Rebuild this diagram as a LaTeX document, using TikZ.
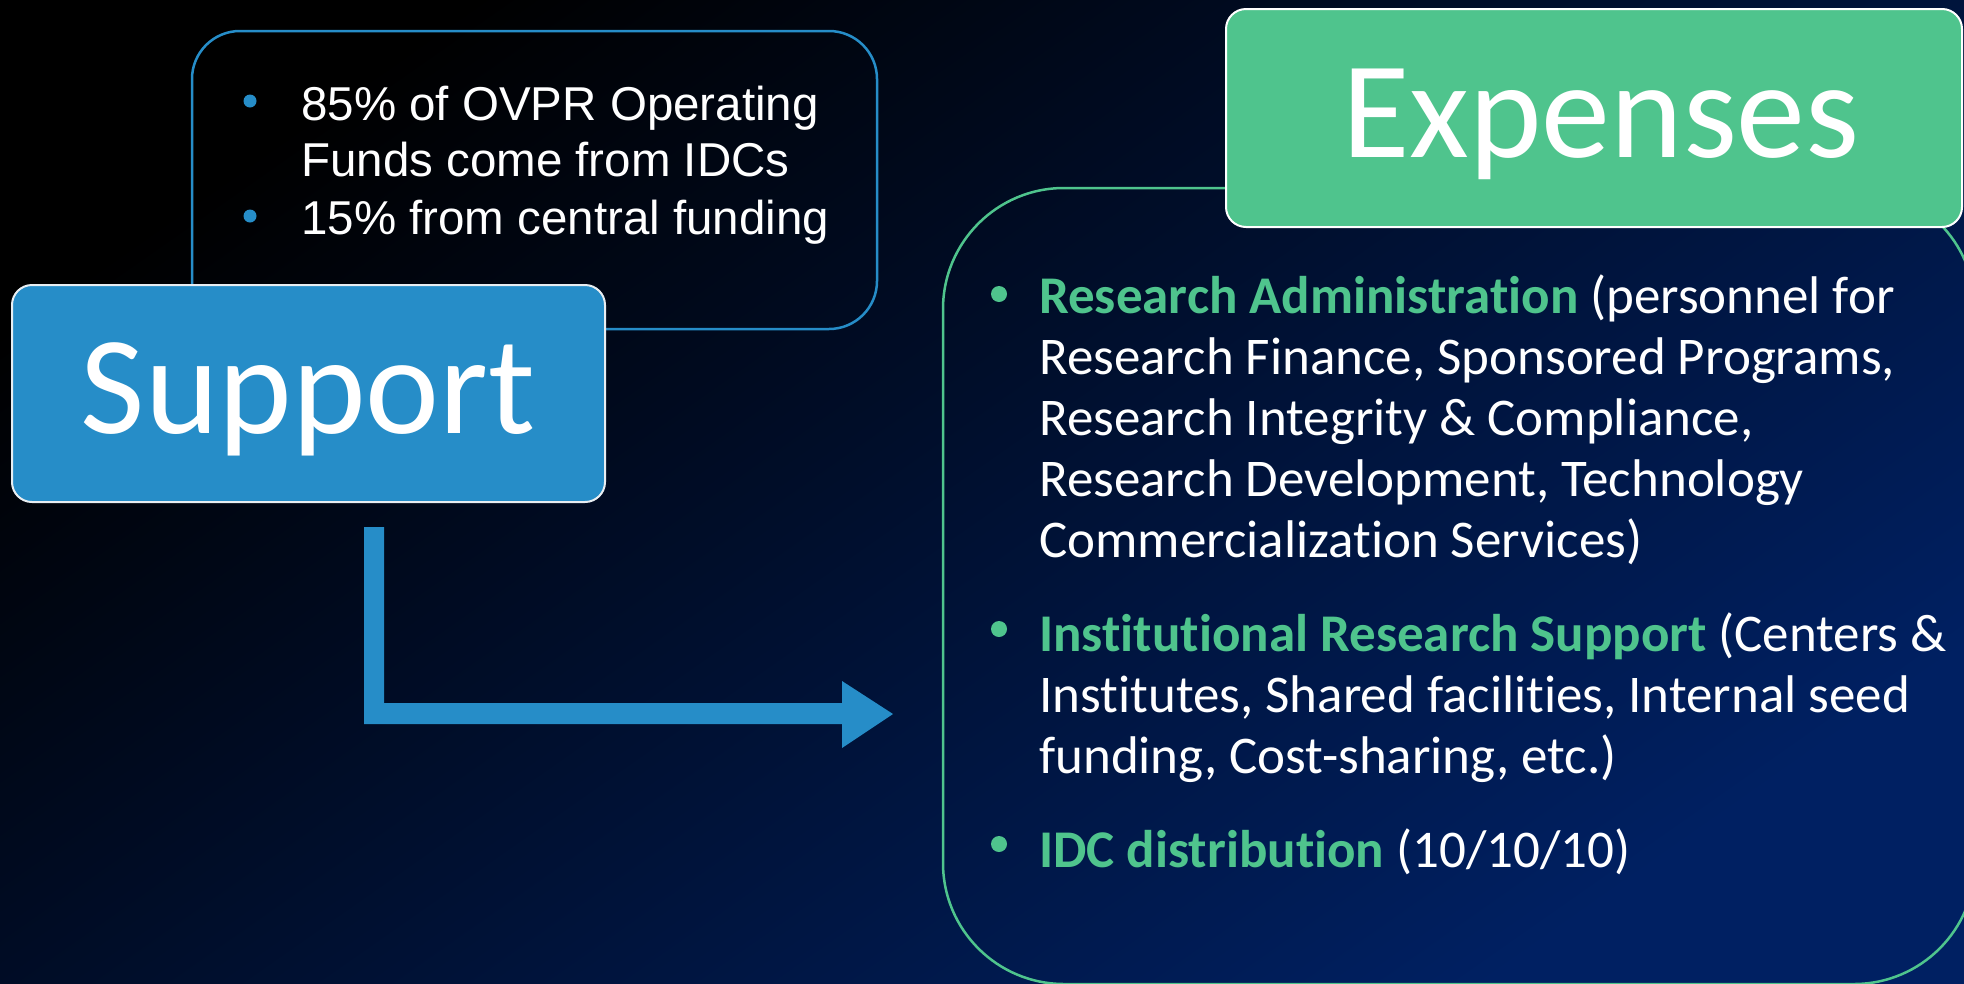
\documentclass[tikz,border=0pt]{standalone}
\usepackage{fontspec}
\setmainfont{Carlito}[RawFeature={-liga;-clig;-dlig}]
\newfontfamily\arialfont{Liberation Sans}
\newcommand\tiplain{t\kern0pt i}
\definecolor{accblue}{HTML}{268DC8}
\definecolor{accgreen}{HTML}{4FC48D}
\definecolor{bgnavy}{HTML}{002062}
\definecolor{boxedge}{HTML}{E8EEF2}
\tikzset{
  outlinebox/.style={line width=2.5pt},
  titlebox/.style={line width=2pt, draw=boxedge},
  titletext/.style={anchor=base, inner sep=0pt, text=white, font=\fontsize{140}{140}\selectfont},
  bodytext/.style={anchor=base west, inner sep=0pt, text=white, font=\fontsize{53}{61}\selectfont},
  smalltext/.style={anchor=base west, inner sep=0pt, text=white, font=\arialfont\fontsize{47.5}{56}\selectfont},
}
\begin{document}
\begin{tikzpicture}[x=1pt,y=-1pt]
\useasboundingbox (0,0) rectangle (1964,983);
\shade[top color=black, bottom color=bgnavy, shading angle=35] (0,0) rectangle (1964,983);

% blue outlined text box
\draw[outlinebox, accblue, rounded corners=48pt] (192,31) rectangle (877,329);
\fill[accblue] (250,101) circle (6.5);
\fill[accblue] (250,216) circle (6.5);
\node[smalltext] (fundA) at (301,120) {\begin{tabular}[t]{@{}l@{}}85\% of OVPR Operating\\Funds come from IDCs\end{tabular}};
\node[smalltext] (fundB) at (301,234) {15\% from central funding};

% Support box
\draw[titlebox, fill=accblue, rounded corners=20pt] (12,285) rectangle (605,502);
\node[titletext] (support) at (308,433) {Support};

% bent arrow
\coordinate (arrtop) at (364,527);
\coordinate (arrtip) at (893,714);
\fill[accblue] (arrtop) -- (384,527) -- (384,703) -- (842,703) -- (842,681) -- (arrtip)
  -- (842,748) -- (842,724) -- (364,724) -- cycle;

% green outlined box
\draw[outlinebox, accgreen, rounded corners=121pt] (943,188) rectangle (1975,984);

% Expenses box
\draw[titlebox, draw=white, fill=accgreen, rounded corners=20pt] (1226,9) rectangle (1962,227);
\node[titletext, font=\fontsize{138}{138}\selectfont] (expenses) at (1601,157) {Expenses};

% bullets
\fill[accgreen] (999,294) circle (8);
\fill[accgreen] (999,629) circle (8);
\fill[accgreen] (999,844) circle (8);
\node[bodytext] (resadmin) at (1039,313) {\begin{tabular}[t]{@{}l@{}}{\color{accgreen}\bfseries Research Administra\tiplain on} (personnel for\\Research Finance, Sponsored Programs,\\Research Integrity \& Compliance,\\Research Development, Technology\\Commercializa\tiplain on Services)\end{tabular}};
\node[bodytext] (instsup) at (1039,651) {\begin{tabular}[t]{@{}l@{}}{\color{accgreen}\bfseries Ins\tiplain tu\tiplain onal Research Support} (Centers \&\\Ins\tiplain tutes, Shared facili\tiplain es, Internal seed\\funding, Cost-sharing, etc.)\end{tabular}};
\node[bodytext] (idc) at (1039,867) {{\color{accgreen}\bfseries IDC distribu\tiplain on} (10/10/10)};
\end{tikzpicture}
\end{document}
